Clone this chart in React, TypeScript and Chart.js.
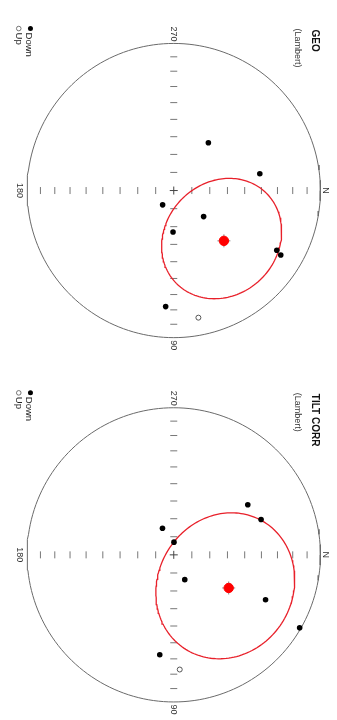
import React, { useEffect, useRef } from 'react';
import { Chart, registerables } from 'chart.js';
Chart.register(...registerables);

// ---------- data (declination / inclination in degrees) ----------
const geoDec = [306, 349, 128, 41, 91, 30, 31, 94, 79];
const geoInc = [57, 40, 80, 68, 67, 20, 16, 22, -13];
const geoMean = [45, 50];
const geoA95 = 33.5;

const tiltDec = [326, 338, 247, 271, 66, 26, 30, 98, 87];
const tiltInc = [39, 36, 74, 83, 75, 31, 1, 32, -23];
const tiltMean = [31, 54];
const tiltA95 = 40;

const tickIncs = [10, 20, 30, 40, 50, 60, 70, 80];
const cardinalDecs = [0, 90, 180, 270];
const cardinalLabels = ['N', '90', '180', '270'];
const legendLabels = ['Down', 'Up'];

const RAD = Math.PI / 180;

// Lambert equal-area projection, rotated so N points right and E points down
function projVec(n: number, e: number, d: number) {
  const f = 1 / Math.sqrt(1 + Math.abs(d));
  return { x: n * f, y: -e * f };
}
function proj(dec: number, inc: number) {
  const D = dec * RAD, I = inc * RAD;
  return projVec(Math.cos(I) * Math.cos(D), Math.cos(I) * Math.sin(D), Math.sin(I));
}
function smallCircle(dec: number, inc: number, a95: number) {
  const D = dec * RAD, I = inc * RAD, A = a95 * RAD;
  const m = [Math.cos(I) * Math.cos(D), Math.cos(I) * Math.sin(D), Math.sin(I)];
  const u = [Math.sin(I) * Math.cos(D), Math.sin(I) * Math.sin(D), -Math.cos(I)];
  const v = [-Math.sin(D), Math.cos(D), 0];
  const pts: { x: number; y: number }[] = [];
  for (let k = 0; k <= 180; k++) {
    const p = (k / 180) * 2 * Math.PI;
    const c = Math.cos(p), s = Math.sin(p);
    const q = [0, 1, 2].map(
      (j) => Math.cos(A) * m[j] + Math.sin(A) * (c * u[j] + s * v[j])
    );
    pts.push(projVec(q[0], q[1], q[2]));
  }
  return pts;
}

type NetProps = {
  title: string;
  decs: number[];
  incs: number[];
  mean: number[];
  a95: number;
  cyPx: number;
};

const W = 337;
const H = 360;
const CX = 174;
const RPX = 153.5;
const FONT = '"Liberation Sans", Arial, Helvetica, sans-serif';

function Net({ title, decs, incs, mean, a95, cyPx }: NetProps) {
  const ref = useRef<HTMLCanvasElement | null>(null);
  useEffect(() => {
    if (!ref.current) return;
    const down = decs.map((d, i) => ({ d, i: incs[i] })).filter((p) => p.i >= 0).map((p) => proj(p.d, p.i));
    const up = decs.map((d, i) => ({ d, i: incs[i] })).filter((p) => p.i < 0).map((p) => proj(p.d, p.i));
    const boundary: { x: number; y: number }[] = [];
    for (let d = 0; d <= 360; d += 2) boundary.push(proj(d, 0));
    const nsTicks = tickIncs.flatMap((t) => [proj(0, t), proj(180, t)]);
    const ewTicks = tickIncs.flatMap((t) => [proj(90, t), proj(270, t)]);
    const meanPt = [proj(mean[0], mean[1])];

    const textPlugin = {
      id: 'rotText',
      afterDraw(chart: any) {
        const ctx = chart.ctx as CanvasRenderingContext2D;
        const xs = chart.scales.x, ys = chart.scales.y;
        const cx = xs.getPixelForValue(0), cy = ys.getPixelForValue(0);
        const rt = (txt: string, x: number, y: number, font: string, align: CanvasTextAlign, color = '#222') => {
          ctx.save();
          ctx.translate(x, y);
          ctx.rotate(Math.PI / 2);
          ctx.font = font;
          ctx.fillStyle = color;
          ctx.textAlign = align;
          ctx.textBaseline = 'middle';
          ctx.fillText(txt, 0, 0);
          ctx.restore();
        };
        // cardinal labels
        cardinalDecs.forEach((dec, k) => {
          const p = proj(dec, 0);
          const px = xs.getPixelForValue(p.x), py = ys.getPixelForValue(p.y);
          const off = [[5, 0], [0, 7.5], [-7.5, 0], [0, -9.5]][k];
          rt(cardinalLabels[k], px + off[0], py + off[1], '9px ' + FONT, 'center', '#333');
        });
        // title
        rt(title, cx + 141, cy - 161, 'bold 10px ' + FONT, 'left', '#111');
        rt('(Lambert)', cx + 124, cy - 162, '9px ' + FONT, 'left', '#333');
        // legend
        ctx.save();
        ctx.fillStyle = '#000';
        ctx.beginPath();
        ctx.arc(cx - 143.3, cy - 162, 2.5, 0, 2 * Math.PI);
        ctx.fill();
        ctx.strokeStyle = '#555';
        ctx.lineWidth = 0.8;
        ctx.beginPath();
        ctx.arc(cx - 155, cy - 162, 2.3, 0, 2 * Math.PI);
        ctx.stroke();
        ctx.restore();
        rt(legendLabels[0], cx - 145.5, cy - 158, '9.5px ' + FONT, 'left', '#222');
        rt(legendLabels[1], cx - 155, cy - 158, '9.5px ' + FONT, 'left', '#222');
      },
    };

    const chart = new Chart(ref.current, {
      type: 'scatter',
      data: {
        datasets: [
          { data: meanPt, pointStyle: 'circle', pointRadius: 4.7, backgroundColor: '#ff0000', borderColor: '#ff0000', borderWidth: 1, order: 0 } as any,
          { data: meanPt, pointStyle: 'cross', pointRadius: 6.5, borderColor: '#888', borderWidth: 1, order: 1 } as any,
          { data: down, pointStyle: 'circle', pointRadius: 2.8, backgroundColor: '#000', borderColor: '#000', borderWidth: 0, order: 2 } as any,
          { data: up, pointStyle: 'circle', pointRadius: 2.5, backgroundColor: '#fff', borderColor: '#555', borderWidth: 1, order: 2 } as any,
          { data: smallCircle(mean[0], mean[1], a95), showLine: true, pointRadius: 0, borderColor: '#e8202a', borderWidth: 1.3, fill: false, order: 3 } as any,
          { data: nsTicks, pointStyle: 'line', rotation: 90, pointRadius: 3.5, borderColor: '#777', borderWidth: 1, order: 4 } as any,
          { data: ewTicks, pointStyle: 'line', rotation: 0, pointRadius: 3.5, borderColor: '#777', borderWidth: 1, order: 4 } as any,
          { data: [proj(0, 90)], pointStyle: 'cross', pointRadius: 4, borderColor: '#444', borderWidth: 1, order: 4 } as any,
          { data: boundary, showLine: true, pointRadius: 0, borderColor: '#6a6a6a', borderWidth: 1, fill: false, order: 5 } as any,
        ],
      },
      options: {
        animation: false,
        responsive: false,
        events: [],
        layout: { padding: 0 },
        plugins: { legend: { display: false }, tooltip: { enabled: false } },
        scales: {
          x: { type: 'linear', display: false, min: -CX / RPX, max: (W - CX) / RPX },
          y: { type: 'linear', display: false, min: -(H - cyPx) / RPX, max: cyPx / RPX },
        },
      },
      plugins: [textPlugin],
    });
    return () => chart.destroy();
  }, [title, decs, incs, mean, a95, cyPx]);
  return <canvas ref={ref} width={W} height={H} style={{ display: 'block', width: W, height: H }} />;
}

export default function App() {
  return (
    <div style={{ position: 'absolute', left: 0, top: 0, width: W, height: 720, background: '#fff', overflow: 'hidden' }}>
      <Net title="GEO" decs={geoDec} incs={geoInc} mean={geoMean} a95={geoA95} cyPx={191} />
      <Net title="TILT CORR" decs={tiltDec} incs={tiltInc} mean={tiltMean} a95={tiltA95} cyPx={195.5} />
    </div>
  );
}
